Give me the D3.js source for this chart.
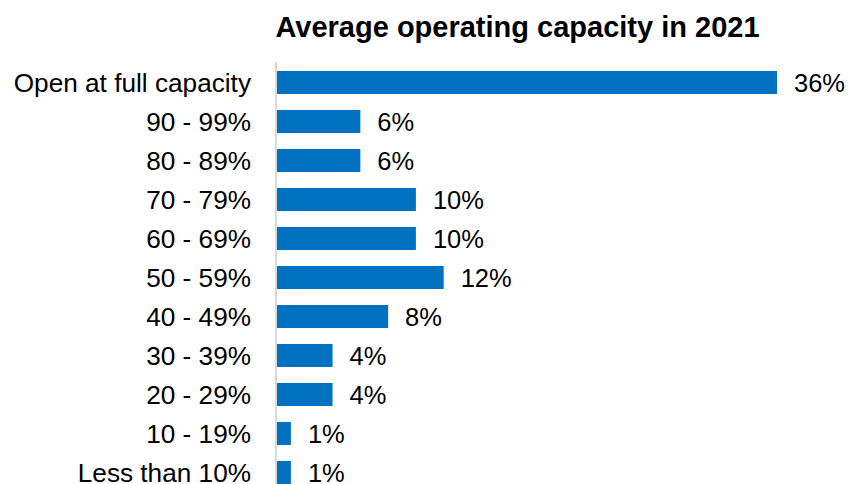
<!DOCTYPE html>
<html>
<head>
<meta charset="utf-8">
<script src="https://cdn.jsdelivr.net/npm/d3@7"></script>
<style>
  html, body { margin: 0; padding: 0; background: #fff; }
  svg { display: block; }
</style>
</head>
<body>
<svg id="chart" width="848" height="484"></svg>
<script>
const title = "Average operating capacity in 2021";
const categories = ["Open at full capacity", "90 - 99%", "80 - 89%", "70 - 79%", "60 - 69%", "50 - 59%", "40 - 49%", "30 - 39%", "20 - 29%", "10 - 19%", "Less than 10%"];
const values = [36, 6, 6, 10, 10, 12, 8, 4, 4, 1, 1];
const valueLabels = ["36%", "6%", "6%", "10%", "10%", "12%", "8%", "4%", "4%", "1%", "1%"];

const svg = d3.select("#chart");
const font = "Liberation Sans, Arial, sans-serif";

const x = d3.scaleLinear().domain([0, 36]).range([277, 777]);
const y = d3.scaleBand().domain(categories).range([63, 492]).paddingInner(0.41).paddingOuter(0.205);

svg.append("text")
  .attr("x", 517.5).attr("y", 36.5)
  .attr("text-anchor", "middle")
  .attr("font-family", font).attr("font-weight", "bold").attr("font-size", 29)
  .attr("fill", "#000")
  .text(title);

// axis line
svg.append("line")
  .attr("x1", 276).attr("x2", 276).attr("y1", 62).attr("y2", 484)
  .attr("stroke", "#d9d9d9").attr("stroke-width", 2);

const data = categories.map((c, i) => ({ c, v: values[i], l: valueLabels[i] }));

svg.selectAll("rect.bar").data(data).join("rect")
  .attr("class", "bar")
  .attr("x", x(0))
  .attr("y", d => y(d.c))
  .attr("width", d => x(d.v) - x(0))
  .attr("height", y.bandwidth())
  .attr("fill", "#0070C0");

svg.selectAll("text.cat").data(data).join("text")
  .attr("class", "cat")
  .attr("x", 251)
  .attr("y", d => y(d.c) + y.bandwidth() / 2 + 9)
  .attr("text-anchor", "end")
  .attr("font-family", font).attr("font-size", 26.2)
  .attr("fill", "#000")
  .text(d => d.c);

svg.selectAll("text.val").data(data).join("text")
  .attr("class", "val")
  .attr("x", d => x(d.v) + 17)
  .attr("y", d => y(d.c) + y.bandwidth() / 2 + 9)
  .attr("font-family", font).attr("font-size", 25.5)
  .attr("fill", "#000")
  .text(d => d.l);
</script>
</body>
</html>
